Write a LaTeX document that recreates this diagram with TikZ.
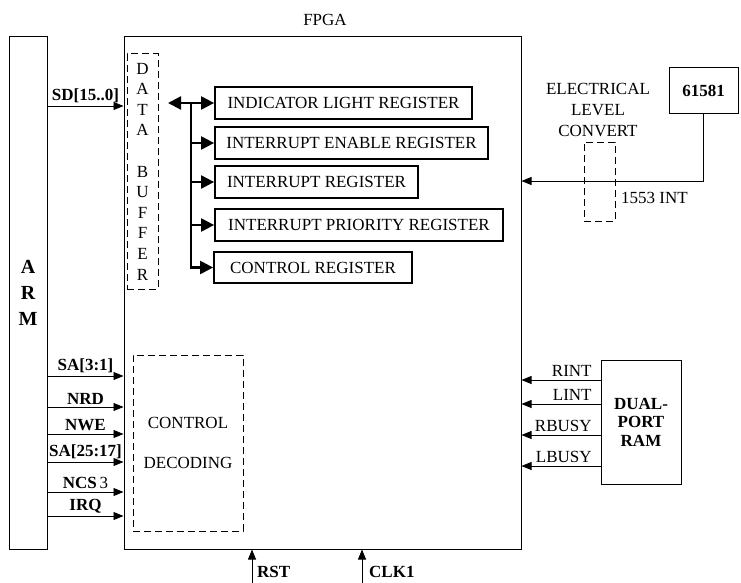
\documentclass[tikz,border=0pt]{standalone}
\usepackage{fontspec}
\setmainfont{Liberation Serif}
\usetikzlibrary{arrows.meta}
\begin{document}
\begin{tikzpicture}[x=1pt,y=-1pt,
  every node/.style={font=\fontsize{17}{20.6}\selectfont},
  box/.style={draw,line width=1pt,inner sep=0pt},
  regbox/.style={draw,line width=1.8pt,inner sep=0pt,minimum height=32pt},
  dbox/.style={draw,line width=1pt,dash pattern=on 7pt off 4pt,inner sep=0pt},
  sig/.style={line width=0.8pt,-{Triangle[length=10pt,width=8pt]}},
  bus/.style={line width=2.2pt,-{Triangle[length=13pt,width=13pt]}},
  lab/.style={font=\fontsize{17}{20}\selectfont\bfseries,inner sep=2.5pt,above},
  rlab/.style={inner sep=1pt,anchor=south east}
]
\useasboundingbox (0,0) rectangle (741,583);
% main blocks
\node[box,minimum width=38pt,minimum height=512pt,align=center,
  font=\fontsize{20}{26}\selectfont\bfseries] (arm) at (28,293) {A\\R\\M};
\node[box,minimum width=397pt,minimum height=512pt] (fpga) at (322.5,293) {};
\node (fpgat) at (325,20) {FPGA};
\node[dbox,minimum width=31pt,minimum height=235pt,align=center] (dbuf) at (142.5,171.5)
  {D\\A\\T\\A\\[20.6pt]B\\U\\F\\F\\E\\R};
% registers
\node[regbox,minimum width=257pt] (ilr) at (343.5,103) {INDICATOR LIGHT REGISTER};
\node[regbox,minimum width=273pt] (ier) at (351.5,143) {INTERRUPT ENABLE REGISTER};
\node[regbox,minimum width=203pt] (ir) at (316.5,182) {INTERRUPT REGISTER};
\node[regbox,minimum width=288pt] (ipr) at (359,225) {INTERRUPT PRIORITY REGISTER};
\node[regbox,minimum width=198pt,minimum height=31pt] (cr) at (313,267.5) {CONTROL REGISTER};
\coordinate (bl) at (168,103);
\coordinate (bx) at (191,103);
\draw[bus,{Triangle[length=13pt,width=13pt]}-{Triangle[length=13pt,width=13pt]}] (bl) -- (ilr.west);
\draw[bus] (bx) |- (cr.west);
\draw[bus] (bx |- ier.west) -- (ier.west);
\draw[bus] (bx |- ir.west) -- (ir.west);
\draw[bus] (bx |- ipr.west) -- (ipr.west);
% SD bus
\draw[sig] (arm.east |- 0,106) -- node[lab] {SD[15..0]} (fpga.west |- 0,106);
% control decoding
\node[dbox,minimum width=110pt,minimum height=176pt,align=center,
  font=\fontsize{17}{40}\selectfont] (cdec) at (188,443) {CONTROL\\DECODING};
\draw[sig] (arm.east |- 0,376) -- node[lab] {SA[3:1]} (fpga.west |- 0,376);
\draw[sig] (arm.east |- 0,407) -- node[lab] {NRD} (fpga.west |- 0,407);
\draw[sig] (arm.east |- 0,434) -- node[lab] {NWE} (fpga.west |- 0,434);
\draw[sig] (arm.east |- 0,462) -- node[lab] {SA[25:17]} (fpga.west |- 0,462);
\draw[sig] (arm.east |- 0,492) -- node[lab] {NCS\,\mdseries 3} (fpga.west |- 0,492);
\draw[sig] (arm.east |- 0,516) -- node[lab] {IRQ} (fpga.west |- 0,516);
% right top
\node[box,minimum width=69pt,minimum height=46pt,font=\fontsize{17}{20}\selectfont\bfseries] (chip) at (703.5,91) {61581};
\node[align=center,inner sep=0pt] (elc) at (598,110) {ELECTRICAL\\LEVEL\\CONVERT};
\node[dbox,minimum width=31pt,minimum height=79pt] (conv) at (599.5,181.5) {};
\draw[sig] (chip.south) |- (fpga.east |- 0,181);
\node[anchor=west,inner sep=0pt] (int1553) at (621,198) {1553 INT};
% dual port RAM
\node[box,minimum width=80pt,minimum height=124pt,align=center,
  font=\fontsize{17}{18.5}\selectfont\bfseries] (ram) at (641,422) {DUAL-\\PORT\\RAM};
\draw[sig] (ram.west |- 0,380) -- (fpga.east |- 0,380) node[rlab] at (593,378) {RINT};
\draw[sig] (ram.west |- 0,404) -- (fpga.east |- 0,404) node[rlab] at (593,402) {LINT};
\draw[sig] (ram.west |- 0,435) -- (fpga.east |- 0,435) node[rlab] at (593,433) {RBUSY};
\draw[sig] (ram.west |- 0,466) -- (fpga.east |- 0,466) node[rlab] at (593,464) {LBUSY};
% bottom inputs
\coordinate (rstin) at (252,583);
\coordinate (clkin) at (362,583);
\draw[sig] (rstin) -- (rstin |- fpga.south);
\draw[sig] (clkin) -- (clkin |- fpga.south);
\node[anchor=west,inner sep=0pt,font=\fontsize{17}{20}\selectfont\bfseries] (rst) at (257,572) {RST};
\node[anchor=west,inner sep=0pt,font=\fontsize{17}{20}\selectfont\bfseries] (clk) at (369,572) {CLK1};
\end{tikzpicture}
\end{document}
